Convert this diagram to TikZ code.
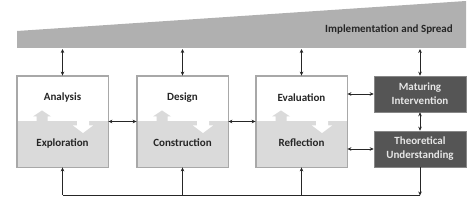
\documentclass[tikz,border=0pt]{standalone}
\usepackage{fontspec}
\setmainfont{Carlito}
\usetikzlibrary{arrows.meta,calc}
\definecolor{txt}{HTML}{262626}
\definecolor{wedgefill}{HTML}{B0B0B0}
\definecolor{lightfill}{HTML}{DADADA}
\definecolor{boxline}{HTML}{A8A8A8}
\definecolor{darkbox}{HTML}{555555}
\definecolor{lighttxt}{HTML}{E6E6E6}
\begin{document}
\begin{tikzpicture}[x=1pt,y=-1pt,
  box/.style={draw=boxline, line width=0.8pt, fill=white, minimum width=91pt, minimum height=91pt, inner sep=0pt,
    path picture={\fill[lightfill] (path picture bounding box.west) rectangle (path picture bounding box.south east);}},
  darkbx/.style={fill=darkbox, draw=boxline!60!darkbox, line width=0.6pt, minimum width=92pt, minimum height=36pt, inner sep=0pt,
    text=lighttxt, font=\bfseries\fontsize{11}{14}\selectfont, align=center},
  lbl/.style={font=\bfseries\fontsize{11}{13}\selectfont, text=txt, inner sep=0pt},
  conn/.style={draw=txt, line width=0.7pt, {Stealth[length=4pt,width=3.6pt]}-{Stealth[length=4pt,width=3.6pt]}},
  one/.style={draw=txt, line width=0.7pt, -{Stealth[length=4pt,width=3.6pt]}},
  plain/.style={draw=txt, line width=0.7pt},
]
\useasboundingbox (0,0) rectangle (472,203);
% wedge
\fill[wedgefill] (17,48) -- (17,31) -- (466,1) -- (466,48) -- cycle;
\node[lbl, anchor=east] (impl) at (453,29) {Implementation and Spread};
% boxes
\node[box] (b1) at (62.5,121.5) {};
\node[box] (b2) at (182.5,121.5) {};
\node[box] (b3) at (301.5,121.5) {};
\foreach \b in {b1,b2,b3} {
  \begin{scope}[shift={(\b.center)}]
    \fill[lightfill] (-26,0.5) -- (-26,-5) -- (-29.5,-5) -- (-20.5,-11) -- (-11.5,-5) -- (-15,-5) -- (-15,0.5) -- cycle;
    \fill[white] (14.5,-0.5) -- (14.5,4) -- (10.5,4) -- (20.5,11.5) -- (30.5,4) -- (26.5,4) -- (26.5,-0.5) -- cycle;
  \end{scope}
  \draw[boxline, line width=0.8pt] (\b.north west) rectangle (\b.south east);
}
\node[lbl] (an) at ([yshift=23.5pt]b1.center) {Analysis};
\node[lbl] (ex) at ([yshift=-21.5pt]b1.center) {Exploration};
\node[lbl] (de) at ([yshift=23.5pt]b2.center) {Design};
\node[lbl] (co) at ([yshift=-21.5pt]b2.center) {Construction};
\node[lbl] (ev) at ([yshift=23.5pt]b3.center) {Evaluation};
\node[lbl] (re) at ([yshift=-21.5pt]b3.center) {Reflection};
\node[darkbx] (m) at (420,94) {Maturing\\Intervention};
\node[darkbx] (t) at (420,149) {Theoretical\\Understanding};
% wedge connectors
\coordinate (w1) at (62.5,49);
\coordinate (w2) at (182.5,49);
\coordinate (w3) at (301.5,49);
\coordinate (w4) at (420,49);
\draw[conn] (w1) -- (b1.north);
\draw[conn] (w2) -- (b2.north);
\draw[conn] (w3) -- (b3.north);
\draw[conn] (w4) -- (m.north);
% horizontal
\draw[conn] (b1.east) -- (b2.west);
\draw[conn] (b2.east) -- (b3.west);
\draw[conn] (b3.east |- m) -- (m.west);
\draw[conn] (b3.east |- t) -- (t.west);
\draw[conn] (m.south) -- (t.north);
% feedback
\coordinate (c4) at (420,195.5);
\coordinate (c1) at (62.5,195.5);
\coordinate (c2) at (182.5,195.5);
\coordinate (c3) at (301.5,195.5);
\draw[one] (t.south) -- (c4);
\draw[plain] (c4) -- (c1);
\draw[one] (c1) -- (b1.south);
\draw[one] (c2) -- (b2.south);
\draw[one] (c3) -- (b3.south);
\end{tikzpicture}
\end{document}
